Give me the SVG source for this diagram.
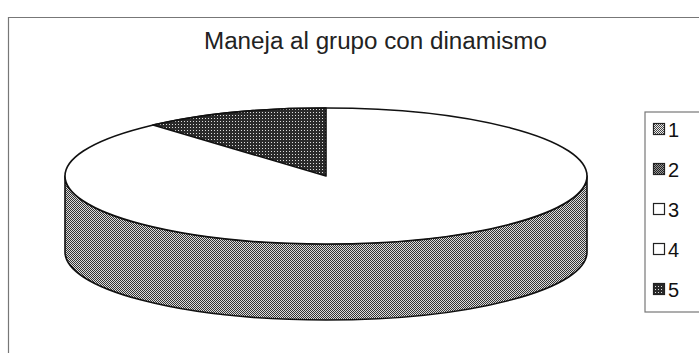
<svg xmlns="http://www.w3.org/2000/svg" width="699" height="353" viewBox="0 0 699 353">
  <defs>
    <pattern id="pSide" width="2" height="2" patternUnits="userSpaceOnUse">
      <rect width="2" height="2" fill="#dcdcdc"/>
      <rect x="0" y="0" width="1" height="1" fill="#333"/>
      <rect x="1" y="1" width="1" height="1" fill="#333"/>
    </pattern>
    <pattern id="pDark" width="3" height="3" patternUnits="userSpaceOnUse">
      <rect width="3" height="3" fill="#2a2a2a"/>
      <rect x="1" y="1" width="1" height="1" fill="#dddddd"/>
    </pattern>
    <pattern id="pL1" width="2" height="2" patternUnits="userSpaceOnUse">
      <rect width="2" height="2" fill="#eee"/>
      <rect x="0" y="0" width="1" height="1" fill="#444"/>
      <rect x="1" y="1" width="1" height="1" fill="#444"/>
    </pattern>
    <pattern id="pL2" width="2" height="2" patternUnits="userSpaceOnUse">
      <rect width="2" height="2" fill="#999"/>
      <rect x="0" y="0" width="1" height="1" fill="#222"/>
      <rect x="1" y="1" width="1" height="1" fill="#222"/>
    </pattern>
  </defs>
  <style>
    .frame { fill: none; stroke: #777; stroke-width: 1.2; }
    .edge { stroke: #111; stroke-width: 1.6; stroke-linejoin: round; }
    .lg { font-family: "Liberation Sans", Arial, sans-serif; font-size: 20px; fill: #111; }
    .sw { stroke: #222; stroke-width: 1.2; }
    .title { font-family: "Liberation Sans", Arial, sans-serif; font-size: 23.5px; fill: #222; }
  </style>
  <rect width="699" height="353" fill="#ffffff"/>
  <g id="frame">
    <line class="frame" x1="8" y1="17.5" x2="699" y2="17.5"/>
    <line class="frame" x1="8.5" y1="17" x2="8.5" y2="353"/>
  </g>
  <g id="title">
    <text class="title" x="375.5" y="49" text-anchor="middle" textLength="343" lengthAdjust="spacingAndGlyphs">Maneja al grupo con dinamismo</text>
  </g>
  <g id="pie">
    <path id="side" class="edge" fill="url(#pSide)" d="M65,176 L65,252 A261,68 0 0 0 587,252 L587,176 A261,68 0 0 1 65,176 Z"/>
    <ellipse id="top" class="edge" cx="326" cy="176" rx="261" ry="68" fill="#ffffff"/>
    <path id="slice5" class="edge" fill="url(#pDark)" d="M326,176 L326,108 A261,68 0 0 0 153,125 Z"/>
  </g>
  <g id="legend">
    <rect class="frame" x="645" y="112" width="60" height="200"/>
    <g id="legend1">
      <rect class="sw" x="653.5" y="123.5" width="11" height="11" fill="url(#pL1)"/>
      <text class="lg" x="668" y="136.5">1</text>
    </g>
    <g id="legend2">
      <rect class="sw" x="653.5" y="163.5" width="11" height="11" fill="url(#pL2)"/>
      <text class="lg" x="668" y="176.5">2</text>
    </g>
    <g id="legend3">
      <rect class="sw" x="653.5" y="203.5" width="11" height="11" fill="#ffffff"/>
      <text class="lg" x="668" y="216.5">3</text>
    </g>
    <g id="legend4">
      <rect class="sw" x="653.5" y="243.5" width="11" height="11" fill="#ffffff"/>
      <text class="lg" x="668" y="256.5">4</text>
    </g>
    <g id="legend5">
      <rect class="sw" x="653.5" y="283.5" width="11" height="11" fill="url(#pDark)"/>
      <text class="lg" x="668" y="296.5">5</text>
    </g>
  </g>
</svg>
